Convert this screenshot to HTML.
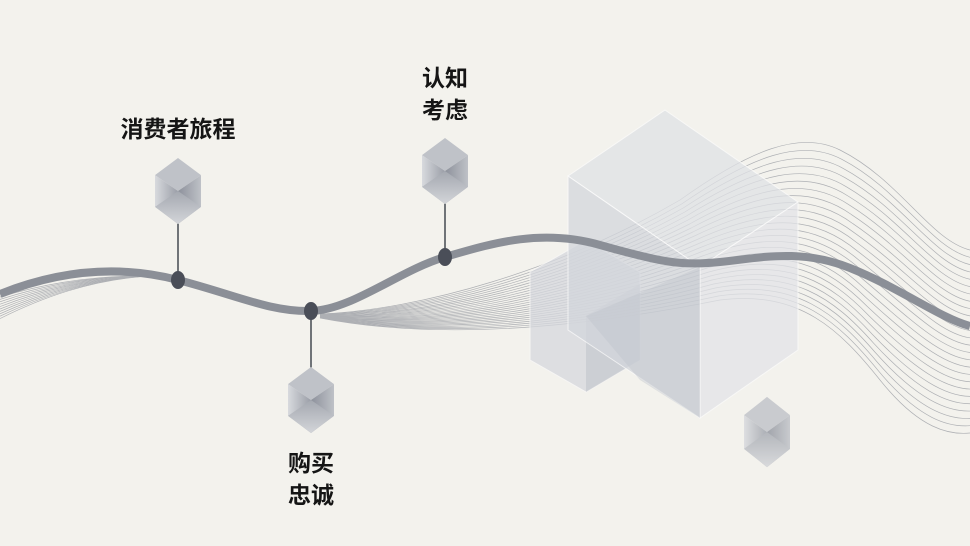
<!DOCTYPE html>
<html><head><meta charset="utf-8"><style>
html,body{margin:0;padding:0;background:#f3f2ed;}
svg{display:block}
text{font-family:"Liberation Sans","Noto Sans CJK SC",sans-serif;font-size:23px;font-weight:600;fill:#151515;text-anchor:middle}
</style></head><body>
<svg width="970" height="546" viewBox="0 0 970 546" xmlns="http://www.w3.org/2000/svg">
<defs>
<linearGradient id="cl" x1="0" y1="0" x2="1" y2="0"><stop offset="0" stop-color="#d8dade"/><stop offset="1" stop-color="#9a9ea7"/></linearGradient>
<linearGradient id="cr" x1="0" y1="0" x2="1" y2="0"><stop offset="0" stop-color="#8d919b"/><stop offset="1" stop-color="#bec1c7"/></linearGradient>
<linearGradient id="ct" x1="0" y1="0" x2="0" y2="1"><stop offset="0" stop-color="#a4a8b0"/><stop offset="1" stop-color="#d3d5d9"/></linearGradient>
<g id="cube">
<polygon points="0,-27 23,-13 0,0 -23,-13" fill="#bfc2c8"/>
<polygon points="-23,-13 0,0 0,27 -23,13" fill="url(#cl)"/>
<polygon points="23,-13 0,0 0,27 23,13" fill="url(#cr)"/>
<polygon points="0,0 23,13 0,27 -23,13" fill="url(#ct)"/>
</g>
</defs>
<rect width="970" height="546" fill="#f3f2ed"/>
<g fill="none" stroke="#aeb0b4" stroke-width="0.7" id="lines"></g>
<g>
<polygon points="586,240 640,272 640,360 586,392 530,360 530,272" fill="#d6d8de" opacity="0.75" stroke="#f7f7f7"/>
<polygon points="586,316 640,284 640,360 586,392" fill="#c2c5cc" opacity="0.6"/>
<polygon points="665,110 798,202 700,267 568,176" fill="#e0e2e6" opacity="0.75" stroke="#fafafa"/>
<polygon points="568,176 700,267 700,418 568,330" fill="#d3d6dc" opacity="0.75" stroke="#fafafa"/>
<polygon points="798,202 700,267 700,418 798,350" fill="#e3e4e8" opacity="0.75" stroke="#fafafa"/>
<polygon points="586,316 700,267 700,418 640,380" fill="#bfc2ca" opacity="0.4"/>
</g>
<path d="M0,294 C60,270 120,265 178,280 S270,312 311,311 S400,270 445,257 S540,228 600,245 S680,266 720,262 S800,248 850,268 S940,318 970,326" fill="none" stroke="#8b8f97" stroke-width="8"/>
<g transform="translate(767,432) scale(1,1.3)"><use href="#cube" opacity="0.8"/></g>
<line x1="178" y1="220" x2="178" y2="280" stroke="#2a2f3a" stroke-width="1.3"/>
<line x1="445" y1="202" x2="445" y2="257" stroke="#2a2f3a" stroke-width="1.3"/>
<line x1="311" y1="311" x2="311" y2="368" stroke="#2a2f3a" stroke-width="1.3"/>
<use href="#cube" transform="translate(178,191) scale(1,1.22)"/>
<use href="#cube" transform="translate(445,171) scale(1,1.22)"/>
<use href="#cube" transform="translate(311,400) scale(1,1.22)"/>
<ellipse cx="178" cy="280" rx="7" ry="9" fill="#4a4e58"/>
<ellipse cx="445" cy="257" rx="7" ry="9" fill="#4a4e58"/>
<ellipse cx="311" cy="311" rx="7" ry="9" fill="#4a4e58"/>
<text x="178" y="137">消费者旅程</text>
<text x="445" y="86">认知</text>
<text x="445" y="118">考虑</text>
<text x="311" y="471">购买</text>
<text x="311" y="503">忠诚</text>
</svg>
<script>
(function(){
var g=document.getElementById('lines');
var A=[[320,314],[420,310],[560,270],[680,200],[750,150],[800,130],[840,150],[900,180],[930,240],[970,250]];
var B=[[320,318],[460,345],[620,320],[720,300],[800,290],[840,330],[880,380],[920,430],[950,435],[970,433]];
var n=26;
for(var i=0;i<n;i++){var t=i/(n-1);var p=A.map(function(a,k){return [a[0]+(B[k][0]-a[0])*t,a[1]+(B[k][1]-a[1])*t];});
var d='M'+p[0]+' C'+p[1]+' '+p[2]+' '+p[3]+' C'+p[4]+' '+p[5]+' '+p[6]+' C'+p[7]+' '+p[8]+' '+p[9];
var e=document.createElementNS('http://www.w3.org/2000/svg','path');e.setAttribute('d',d);g.appendChild(e);}
for(var j=0;j<10;j++){var e2=document.createElementNS('http://www.w3.org/2000/svg','path');
e2.setAttribute('d','M0,'+(297+j*2.4)+' C40,'+(285+j*1.5)+' 90,'+(275+j*0.5)+' 150,276');g.appendChild(e2);}
})();
</script>
</body></html>
